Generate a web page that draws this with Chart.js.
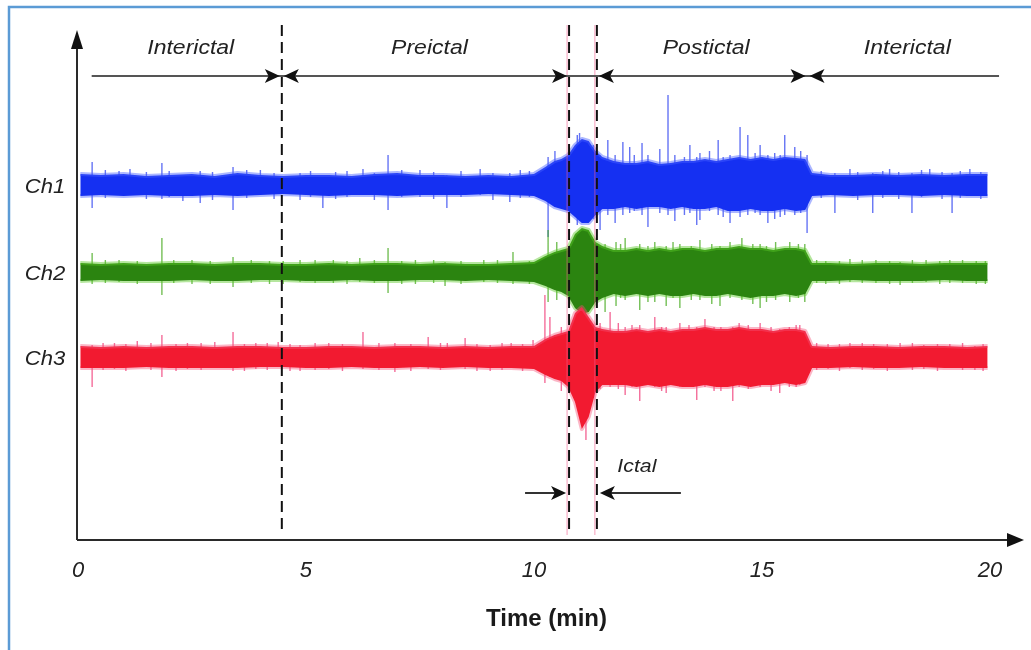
<!DOCTYPE html>
<html>
<head>
<meta charset="utf-8">
<script src="https://cdn.jsdelivr.net/npm/chart.js@4.4.1/dist/chart.umd.min.js"></script>
<style>
  html, body { margin: 0; padding: 0; background: #fff; }
  #wrap { width: 1031px; height: 650px; }
</style>
</head>
<body>
<div id="wrap"><canvas id="eeg" width="1031" height="650"></canvas></div>
<script>
// time axis (min)
const tickValues = [0, 5, 10, 15, 20];
const timeMax = 20.55;
const axisTitle = 'Time (min)';

// seizure phases (min)
const phaseNames = ['Interictal', 'Preictal', 'Postictal', 'Interictal'];
const phaseStart = [0.3, 4.47, 11.38, 16.0];
const phaseEnd = [4.47, 10.77, 16.0, 20.2];
const dashedAt = [4.47, 10.77, 11.38];
const ictalLabel = 'Ictal';

// channels: names + vertical offset of each trace
const channelNames = ['Ch1', 'Ch2', 'Ch3'];
const channelOffset = [355, 268, 183];

// envelope of each trace (upper / lower amplitude around its offset)
const envT = [0.05, 0.5, 1, 1.5, 2, 2.5, 3, 3.5, 4, 4.5, 5, 5.5, 6, 6.5, 7, 7.5, 8, 8.5, 9, 9.5, 10,
  10.25, 10.45, 10.6, 10.75, 10.9, 11.05, 11.2, 11.35, 11.5,
  11.75, 12, 12.25, 12.5, 12.75, 13, 13.25, 13.5, 13.75, 14, 14.25, 14.5, 14.75, 15, 15.25, 15.5, 15.75, 15.95,
  16.1, 16.5, 17, 17.5, 18, 18.5, 19, 19.5, 19.95];

const ch1Upper = [11,10,11,9,10,11,9,12,10,9,10,10,9,11,12,10,10,9,10,9,11,
  18,24,26,30,40,46,44,34,28,
  24,22,22,24,21,22,24,24,26,24,26,28,26,28,26,28,27,26,
  12,10,10,11,10,11,10,11,11];
const ch1Lower = [-11,-10,-11,-10,-11,-11,-10,-11,-10,-9,-10,-11,-10,-10,-11,-10,-10,-10,-9,-10,-11,
  -16,-22,-24,-26,-32,-38,-38,-30,-24,
  -24,-22,-24,-22,-22,-24,-22,-24,-24,-22,-26,-26,-24,-26,-26,-24,-26,-25,
  -11,-10,-11,-10,-10,-11,-10,-11,-11];

const ch2Upper = [9,8,9,8,9,9,8,9,9,8,8,9,8,9,9,8,9,8,8,9,10,
  16,20,22,24,38,44,42,30,26,
  22,22,24,22,24,22,24,24,22,24,24,26,24,24,22,24,24,22,
  9,9,8,9,9,8,9,9,9];
const ch2Lower = [-9,-8,-9,-9,-9,-8,-9,-9,-8,-8,-9,-9,-8,-9,-9,-8,-8,-9,-8,-9,-10,
  -14,-18,-20,-24,-36,-42,-40,-30,-26,
  -22,-24,-22,-24,-22,-24,-24,-22,-24,-24,-22,-24,-26,-24,-24,-22,-24,-22,
  -9,-9,-8,-9,-9,-9,-8,-9,-9];

const ch3Upper = [11,10,11,10,11,11,10,11,11,10,10,11,11,10,11,11,10,11,10,11,11,
  18,22,24,26,44,50,40,30,28,
  26,26,28,26,28,26,28,28,30,28,28,30,28,28,26,28,28,26,
  11,10,11,11,10,11,11,10,11];
const ch3Lower = [-11,-11,-11,-10,-11,-11,-11,-11,-10,-10,-11,-11,-10,-11,-11,-10,-11,-10,-11,-11,-12,
  -18,-22,-24,-30,-45,-72,-60,-35,-28,
  -28,-28,-30,-28,-30,-28,-30,-30,-28,-30,-30,-28,-30,-28,-28,-26,-28,-26,
  -11,-11,-10,-11,-11,-10,-11,-11,-11];

// single spikes sticking out of the envelope
const ch1SpikeT = [0.31,0.9,1.14,1.84,2.3,2.68,3.4,4.0,4.87,5.37,5.9,6.25,6.8,7.5,8.09,8.82,9.47,9.9,10.31,10.46,
  10.95,11.0,11.45,11.62,11.78,11.95,12.1,12.37,12.5,12.76,12.94,13.09,13.42,13.57,13.64,14.04,14.3,14.52,14.69,14.96,
  15.13,15.28,15.5,15.72,15.99,16.6,16.93,17.43,17.8,18.29,18.68,19.17,19.56,
  0.6,1.5,2.0,2.95,3.7,4.3,5.1,5.65,6.5,7.1,7.8,8.4,9.1,9.7,16.3,17.1,17.65,18.0,18.5,18.95,19.35,19.8,
  11.3,12.2,13.3,13.85,14.15,14.85,15.4,15.85];
const ch1SpikeHi = [23,14,16,22,8,14,18,15,12,10,14,16,30,15,10,16,12,14,28,34,
  50,52,30,45,30,43,38,42,30,36,90,30,40,28,32,45,30,58,50,40,
  30,32,50,38,30,12,16,12,16,12,16,12,16,
  15,13,14,13,15,12,14,13,12,15,13,14,12,15,14,13,14,13,15,13,14,13,
  40,30,28,34,28,32,30,34];
const ch1SpikeLo = [-23,-8,0,-14,-16,-18,-25,-10,-15,-23,-12,-10,-25,-12,-23,-10,-17,-12,-52,-20,
  -40,-36,-45,-30,-38,-30,-28,-30,-42,-28,-30,-36,-28,-40,-35,-30,-38,-32,-30,-30,
  -38,-34,-30,-30,-48,-28,-10,-28,-10,-28,-10,-28,-10,
  -13,-14,-12,-15,-13,-14,-12,-14,-15,-12,-14,-12,-15,-13,-13,-15,-13,-14,-12,-14,-13,-14,
  -34,-26,-30,-26,-32,-28,-32,-28];

const ch2SpikeT = [0.31,0.9,1.84,2.5,3.4,4.2,4.87,5.6,6.18,6.8,7.4,8.05,8.9,9.54,10.31,10.5,11.56,11.8,12.0,12.32,
  12.65,12.9,13.2,13.64,13.9,14.08,14.56,14.8,14.96,15.3,15.61,15.94,16.4,16.93,17.5,18.03,18.6,19.12,19.7,
  0.6,1.3,2.1,2.9,3.8,4.5,5.2,5.9,6.5,7.1,7.8,8.4,9.2,9.9,16.2,16.7,17.2,17.8,18.3,18.9,19.4,19.9,
  11.9,12.5,13.05,13.45,14.3,15.1,15.8];
const ch2SpikeHi = [19,12,34,12,15,11,12,12,14,24,12,10,12,20,42,30,28,30,34,28,
  30,26,28,32,28,26,34,28,28,30,30,28,11,13,12,10,12,12,11,
  12,11,12,11,12,11,12,11,12,11,12,11,12,11,12,11,12,11,12,11,12,11,
  28,26,30,26,30,26,28];
const ch2SpikeLo = [-12,-10,-23,-12,-15,-12,-10,-11,-10,-21,-12,-14,-10,-12,-30,-28,-40,-34,-28,-38,
  -30,-34,-36,-28,-32,-34,-28,-32,-36,-28,-30,-30,-12,-10,-11,-13,-10,-11,-12,
  -11,-12,-11,-12,-11,-12,-11,-12,-11,-12,-11,-12,-11,-12,-11,-12,-11,-12,-11,-12,-11,-12,
  -26,-30,-26,-28,-26,-30,-26];

const ch3SpikeT = [0.31,0.8,1.3,1.84,2.4,3.0,3.4,3.9,4.39,4.87,5.5,6.25,6.95,7.68,8.1,8.49,9.04,9.5,9.98,10.24,
  10.35,10.6,11.14,11.67,11.85,12.0,12.32,12.65,12.9,13.2,13.57,13.75,14.1,14.36,14.7,14.96,15.39,15.6,15.83,16.45,
  16.93,17.45,18.03,18.55,19.12,19.67,
  0.55,1.05,1.6,2.15,2.7,3.65,4.15,4.65,5.2,5.8,6.6,7.3,7.95,8.75,9.3,9.75,16.2,16.7,17.2,17.75,18.3,18.85,19.4,19.85,
  11.45,12.15,12.8,13.4,13.95,14.5,15.2,15.75];
const ch3SpikeHi = [12,14,16,22,14,15,25,14,15,12,14,25,14,20,14,19,12,14,17,62,
  40,30,30,45,34,30,32,40,30,34,30,38,30,30,32,34,28,30,32,13,
  14,13,14,12,13,11,
  14,13,14,13,14,13,14,13,14,13,14,13,14,13,14,13,14,13,14,13,14,13,14,13,
  34,32,30,32,30,34,30,32];
const ch3SpikeLo = [-30,-12,-10,-20,-12,-10,-14,-12,-10,-14,-12,-12,-15,-12,-10,-12,-14,-10,-12,-26,
  -20,-34,-83,-30,-32,-38,-44,-30,-36,-30,-43,-30,-34,-44,-32,-30,-36,-30,-28,-12,
  -11,-12,-10,-12,-11,-13,
  -13,-14,-13,-14,-13,-14,-13,-14,-13,-14,-13,-14,-13,-14,-13,-14,-13,-14,-13,-14,-13,-14,-13,-14,
  -32,-30,-34,-30,-34,-30,-34,-30];

const FONT = '"Liberation Sans", Arial, Helvetica, sans-serif';

const channels = [
  { upper: ch1Upper, lower: ch1Lower, sT: ch1SpikeT, sHi: ch1SpikeHi, sLo: ch1SpikeLo,
    core: '#1530f2', halo: 'rgba(70,95,255,0.45)', spike: 'rgba(50,70,240,0.75)' },
  { upper: ch2Upper, lower: ch2Lower, sT: ch2SpikeT, sHi: ch2SpikeHi, sLo: ch2SpikeLo,
    core: '#2b8410', halo: 'rgba(90,200,40,0.45)', spike: 'rgba(70,170,30,0.75)' },
  { upper: ch3Upper, lower: ch3Lower, sT: ch3SpikeT, sHi: ch3SpikeHi, sLo: ch3SpikeLo,
    core: '#f21a30', halo: 'rgba(245,80,120,0.42)', spike: 'rgba(240,60,120,0.75)' }
];

// build datasets; Ch3 first so it is painted on top
const datasets = [];
[2, 1, 0].forEach((ci) => {
  const c = channels[ci];
  const off = channelOffset[ci];
  const spikes = [];
  c.sT.forEach((t, i) => {
    spikes.push({ x: t, y: off + c.sLo[i] }, { x: t, y: off + c.sHi[i] }, { x: t, y: null });
  });
  datasets.push({
    label: channelNames[ci] + ' upper',
    data: envT.map((t, i) => ({ x: t, y: off + c.upper[i] })),
    borderColor: c.halo, borderWidth: 4, backgroundColor: c.core,
    fill: '+1', pointRadius: 0, tension: 0
  });
  datasets.push({
    label: channelNames[ci] + ' lower',
    data: envT.map((t, i) => ({ x: t, y: off + c.lower[i] })),
    borderColor: c.halo, borderWidth: 4, fill: false, pointRadius: 0, tension: 0
  });
  datasets.push({
    label: channelNames[ci] + ' spikes',
    data: spikes,
    borderColor: c.spike, borderWidth: 1.4, fill: false, pointRadius: 0, spanGaps: false
  });
});

const tri = (ctx, tipX, tipY, dir, len, half) => {
  ctx.beginPath();
  ctx.moveTo(tipX, tipY);
  ctx.lineTo(tipX - dir * len, tipY - half);
  ctx.lineTo(tipX - dir * len * 0.75, tipY);
  ctx.lineTo(tipX - dir * len, tipY + half);
  ctx.closePath();
  ctx.fill();
};

const stretchText = (ctx, txt, cx, cy, sx) => {
  ctx.save();
  ctx.translate(cx, cy);
  ctx.scale(sx, 1);
  ctx.fillText(txt, 0, 0);
  ctx.restore();
};

const decor = {
  id: 'decor',
  afterDraw(chart) {
    const { ctx, chartArea: a, scales: { x, y } } = chart;
    ctx.save();

    // blue frame
    ctx.strokeStyle = '#5b9bd5';
    ctx.lineWidth = 2.5;
    ctx.beginPath();
    ctx.moveTo(9, 650);
    ctx.lineTo(9, 7);
    ctx.lineTo(1031, 7);
    ctx.stroke();

    // axes with arrows
    ctx.strokeStyle = '#2a2a2a';
    ctx.fillStyle = '#111';
    ctx.lineWidth = 2;
    ctx.beginPath();
    ctx.moveTo(a.left - 1, a.bottom);
    ctx.lineTo(a.left - 1, a.top + 8);
    ctx.moveTo(a.left - 1, a.bottom);
    ctx.lineTo(a.right, a.bottom);
    ctx.stroke();
    ctx.beginPath();
    ctx.moveTo(a.left - 1, a.top - 5);
    ctx.lineTo(a.left - 7, a.top + 14);
    ctx.lineTo(a.left + 5, a.top + 14);
    ctx.closePath();
    ctx.fill();
    ctx.beginPath();
    ctx.moveTo(a.right + 9, a.bottom);
    ctx.lineTo(a.right - 8, a.bottom - 7);
    ctx.lineTo(a.right - 8, a.bottom + 7);
    ctx.closePath();
    ctx.fill();

    // phase boundaries (dashed)
    dashedAt.forEach((t, i) => {
      const px = x.getPixelForValue(t);
      if (i > 0) {
        ctx.strokeStyle = 'rgba(240,90,140,0.6)';
        ctx.lineWidth = 1;
        ctx.setLineDash([]);
        ctx.beginPath();
        ctx.moveTo(px - 2, a.top - 10);
        ctx.lineTo(px - 2, a.bottom - 5);
        ctx.stroke();
      }
      ctx.strokeStyle = '#111';
      ctx.lineWidth = 2;
      ctx.setLineDash([11, 6]);
      ctx.beginPath();
      ctx.moveTo(px, a.top - 10);
      ctx.lineTo(px, a.bottom - 5);
      ctx.stroke();
    });
    ctx.setLineDash([]);

    // phase header
    const hy = 76;
    ctx.strokeStyle = '#555';
    ctx.lineWidth = 2;
    ctx.beginPath();
    ctx.moveTo(x.getPixelForValue(phaseStart[0]), hy);
    ctx.lineTo(x.getPixelForValue(phaseEnd[phaseEnd.length - 1]), hy);
    ctx.stroke();
    ctx.fillStyle = '#111';
    phaseNames.forEach((name, i) => {
      const x0 = x.getPixelForValue(phaseStart[i]);
      const x1 = x.getPixelForValue(phaseEnd[i]);
      if (i > 0) tri(ctx, x0 + 2, hy, -1, 15, 7);
      if (i < phaseNames.length - 1) tri(ctx, x1 - 2, hy, 1, 15, 7);
    });
    ctx.fillStyle = '#222';
    ctx.font = 'italic 20px ' + FONT;
    ctx.textAlign = 'center';
    ctx.textBaseline = 'middle';
    phaseNames.forEach((name, i) => {
      const cx = (x.getPixelForValue(phaseStart[i]) + x.getPixelForValue(phaseEnd[i])) / 2;
      stretchText(ctx, name, cx + 4, 48, 1.15);
    });

    // channel labels
    ctx.font = 'italic 21px ' + FONT;
    channelNames.forEach((n, i) => {
      stretchText(ctx, n, 45, y.getPixelForValue(channelOffset[i]) + 2, 1.05);
    });

    // ictal marker
    const ix0 = x.getPixelForValue(dashedAt[1]);
    const ix1 = x.getPixelForValue(dashedAt[2]);
    const iy = 493;
    ctx.strokeStyle = '#333';
    ctx.lineWidth = 2;
    ctx.beginPath();
    ctx.moveTo(ix0 - 44, iy);
    ctx.lineTo(ix0 - 10, iy);
    ctx.moveTo(ix1 + 10, iy);
    ctx.lineTo(ix1 + 84, iy);
    ctx.stroke();
    ctx.fillStyle = '#111';
    tri(ctx, ix0 - 3, iy, 1, 15, 7);
    tri(ctx, ix1 + 3, iy, -1, 15, 7);
    ctx.fillStyle = '#222';
    ctx.font = 'italic 19px ' + FONT;
    stretchText(ctx, ictalLabel, ix1 + 40, 467, 1.12);

    ctx.restore();
  }
};

new Chart(document.getElementById('eeg'), {
  type: 'line',
  data: { datasets },
  options: {
    responsive: false,
    animation: false,
    devicePixelRatio: 1,
    layout: { padding: { left: 78, top: 35, right: 16, bottom: 0 } },
    plugins: { legend: { display: false }, tooltip: { enabled: false } },
    elements: { line: { borderJoinStyle: 'round' } },
    scales: {
      x: {
        type: 'linear',
        min: 0,
        max: timeMax,
        afterBuildTicks: (scale) => { scale.ticks = tickValues.map(v => ({ value: v })); },
        afterFit: (scale) => { scale.height = 110; },
        grid: { display: false, drawTicks: false },
        border: { display: false },
        ticks: {
          padding: 18,
          color: '#222',
          maxRotation: 0,
          font: { family: FONT, size: 22, style: 'italic' }
        },
        title: {
          display: true,
          text: axisTitle,
          color: '#1a1a1a',
          padding: { top: 0, bottom: 16 },
          font: { family: FONT, size: 24, weight: 'bold' }
        }
      },
      y: {
        type: 'linear',
        display: false,
        min: 0,
        max: 505
      }
    }
  },
  plugins: [decor]
});
</script>
</body>
</html>
